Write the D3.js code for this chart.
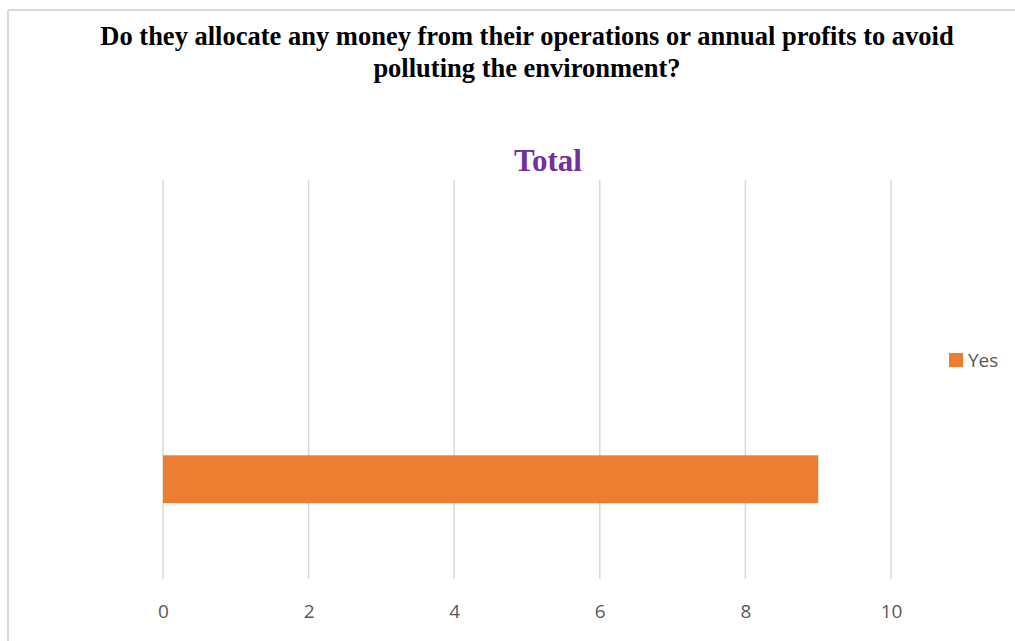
<!DOCTYPE html>
<html>
<head>
<meta charset="utf-8">
<script src="https://cdn.jsdelivr.net/npm/d3@7/dist/d3.min.js"></script>
<style>
  html, body { margin: 0; padding: 0; background: #ffffff; }
  svg { display: block; }
</style>
</head>
<body>
<div id="chart"></div>
<script>
// chart data
const categories = ["Yes", ""];
const values = [9, null];
const seriesName = "Yes";
const xTicks = [0, 2, 4, 6, 8, 10];
const titleLines = ["Do they allocate any money from their operations or annual profits to avoid",
                    "polluting the environment?"];
const chartTitle = "Total";

const width = 1015, height = 641;
const plot = {left: 163, right: 891, top: 180, bottom: 579};
const barColor = "#ed7d31";
const gridColor = "#d9d9d9";
const textGray = "#595959";

const svg = d3.select("#chart").append("svg")
    .attr("width", width)
    .attr("height", height);

// outer frame (left and top edges visible)
svg.append("line").attr("x1", 8).attr("x2", width).attr("y1", 10).attr("y2", 10)
    .attr("stroke", gridColor).attr("stroke-width", 2);
svg.append("line").attr("x1", 8).attr("x2", 8).attr("y1", 10).attr("y2", height)
    .attr("stroke", gridColor).attr("stroke-width", 2);

// question title
svg.selectAll("text.qtitle").data(titleLines).join("text")
    .attr("class", "qtitle")
    .attr("x", 527)
    .attr("y", (d, i) => 45 + i * 31.5)
    .attr("text-anchor", "middle")
    .style("font-family", "'Liberation Serif', 'Times New Roman', serif")
    .style("font-weight", "bold")
    .style("font-size", "26.5px")
    .style("fill", "#000")
    .text(d => d);

// chart title
svg.append("text")
    .attr("x", 548)
    .attr("y", 171)
    .attr("text-anchor", "middle")
    .style("font-family", "'Liberation Serif', 'Times New Roman', serif")
    .style("font-weight", "bold")
    .style("font-size", "31px")
    .style("fill", "#7030a0")
    .text(chartTitle);

// scales
const x = d3.scaleLinear().domain([0, 10]).range([plot.left, plot.right]);
const y = d3.scaleBand()
    .domain(categories.slice().reverse())   // first category at bottom, like Excel
    .range([plot.top, plot.bottom]);

// vertical gridlines
svg.append("g").selectAll("line").data(xTicks).join("line")
    .attr("x1", d => x(d)).attr("x2", d => x(d))
    .attr("y1", plot.top).attr("y2", plot.bottom)
    .attr("stroke", gridColor)
    .attr("stroke-width", 1.5);

// x axis labels
const xAxis = d3.axisBottom(x).tickValues(xTicks).tickSize(0).tickPadding(0);
const axisG = svg.append("g")
    .attr("transform", `translate(0, ${plot.bottom + 25})`)
    .call(xAxis);
axisG.select(".domain").remove();
axisG.selectAll("text")
    .style("font-family", "'Open Sans', 'Liberation Sans', sans-serif")
    .style("font-size", "19px")
    .style("fill", textGray);

// bars
const barH = y.bandwidth() * 0.24;
const data = categories.map((c, i) => ({cat: c, value: values[i]})).filter(d => d.value != null);
svg.append("g").selectAll("rect").data(data).join("rect")
    .attr("x", x(0))
    .attr("y", d => y(d.cat) + (y.bandwidth() - barH) / 2)
    .attr("width", d => x(d.value) - x(0))
    .attr("height", barH)
    .attr("fill", barColor);

// legend
const legend = svg.append("g").attr("transform", "translate(949, 353)");
legend.append("rect").attr("width", 14).attr("height", 14).attr("fill", barColor);
legend.append("text")
    .attr("x", 19).attr("y", 14)
    .style("font-family", "'Open Sans', 'Liberation Sans', sans-serif")
    .style("font-size", "19px")
    .style("fill", textGray)
    .text(seriesName);
</script>
</body>
</html>
